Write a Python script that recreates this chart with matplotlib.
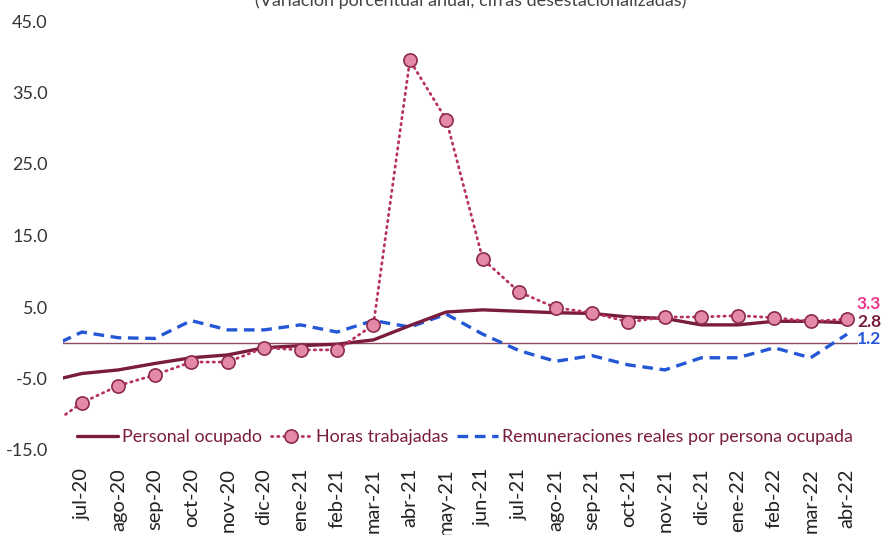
import matplotlib
matplotlib.use("Agg")
import matplotlib.pyplot as plt
import numpy as np

plt.rcParams['font.family'] = ['Lato', 'DejaVu Sans']

# jun-20 is the first (clipped) point; labels start at jul-20
months = ["jun-20", "jul-20", "ago-20", "sep-20", "oct-20", "nov-20", "dic-20",
          "ene-21", "feb-21", "mar-21", "abr-21", "may-21", "jun-21", "jul-21",
          "ago-21", "sep-21", "oct-21", "nov-21", "dic-21", "ene-22", "feb-22",
          "mar-22", "abr-22"]
personal = [-5.5, -4.3, -3.8, -2.9, -2.1, -1.7, -0.7, -0.4, -0.2, 0.4, 2.4, 4.3,
            4.6, 4.4, 4.2, 4.1, 3.6, 3.4, 2.5, 2.5, 3.0, 3.0, 2.8]
horas = [-12.0, -8.4, -6.0, -4.5, -2.7, -2.7, -0.7, -1.0, -1.0, 2.5, 39.5, 31.2,
         11.7, 7.1, 4.9, 4.2, 2.9, 3.6, 3.6, 3.8, 3.5, 3.0, 3.3]
remun = [-0.9, 1.5, 0.7, 0.6, 3.1, 1.8, 1.8, 2.5, 1.5, 3.1, 2.2, 4.0,
         1.2, -1.1, -2.6, -1.8, -3.1, -3.8, -2.1, -2.1, -0.7, -2.1, 1.2]
yticks = [-15, -5, 5, 15, 25, 35, 45]
title = "(Variación porcentual anual, cifras desestacionalizadas)"

c_pers = "#7A1C3B"
c_horas = "#B8325F"
c_mface = "#E48AA8"
c_medge = "#8C2A4B"
c_rem = "#2457D6"

fig = plt.figure(figsize=(8.94, 5.35), dpi=100)
ax = fig.add_axes([63/894, 1-450/535, (858-63)/894, (450-21)/535])

x = np.arange(len(months)) - 1  # jul-20 at 0

ax.axhline(0, color="#8E4A5E", lw=1.0, zorder=1)
l1, = ax.plot(x, personal, color=c_pers, lw=2.4, solid_capstyle='round', zorder=3,
              label="Personal ocupado")
l2, = ax.plot(x, horas, color=c_horas, lw=2.0, linestyle=(0, (0.5, 1.7)),
              dash_capstyle='round', marker='o', markersize=9.5,
              markerfacecolor=c_mface, markeredgecolor=c_medge,
              markeredgewidth=1.2, zorder=4, label="Horas trabajadas")
l3, = ax.plot(x, remun, color=c_rem, lw=2.4, linestyle=(0, (3.2, 2.0)),
              zorder=2, label="Remuneraciones reales por persona ocupada")

ax.set_xlim(-0.52, 21.3)
ax.set_ylim(-15, 45)
ax.set_yticks(yticks)
ax.set_yticklabels([f"{v:.1f}" for v in yticks], fontsize=13, color="#333333")
ax.set_xticks(x[1:])
ax.set_xticklabels(months[1:], rotation=90, fontsize=14.5, color="#222222",
                   va='top', ha='center')
ax.tick_params(axis='both', length=0)
ax.tick_params(axis='y', pad=11)
ax.tick_params(axis='x', pad=13)
for s in ax.spines.values():
    s.set_visible(False)

# end labels
ax.annotate(f"{horas[-1]:.1f}", xy=(x[-1], horas[-1]), xytext=(869, 535-304),
            xycoords='data', textcoords='figure pixels', color="#E8358A",
            fontsize=12.5, fontweight='bold', va='center', ha='center')
ax.annotate(f"{personal[-1]:.1f}", xy=(x[-1], personal[-1]), xytext=(869, 535-322),
            xycoords='data', textcoords='figure pixels', color=c_pers,
            fontsize=12.5, fontweight='bold', va='center', ha='center')
ax.annotate(f"{remun[-1]:.1f}", xy=(x[-1], remun[-1]), xytext=(869, 535-339),
            xycoords='data', textcoords='figure pixels', color=c_rem,
            fontsize=12.5, fontweight='bold', va='center', ha='center')

leg = fig.legend(handles=[l1, l2, l3], loc='center left',
                 bbox_to_anchor=(77/894, 1-437/535), ncol=3, frameon=False,
                 fontsize=12.9, handlelength=2.3, handletextpad=0.2,
                 columnspacing=0.5, borderaxespad=0, borderpad=0)
for t in leg.get_texts():
    t.set_color("#7A1C3B")

fig.text(471/894, 1-1/535, title, ha='center', va='center', fontsize=13,
         color="#444444")

fig.savefig("out.png", dpi=100)
